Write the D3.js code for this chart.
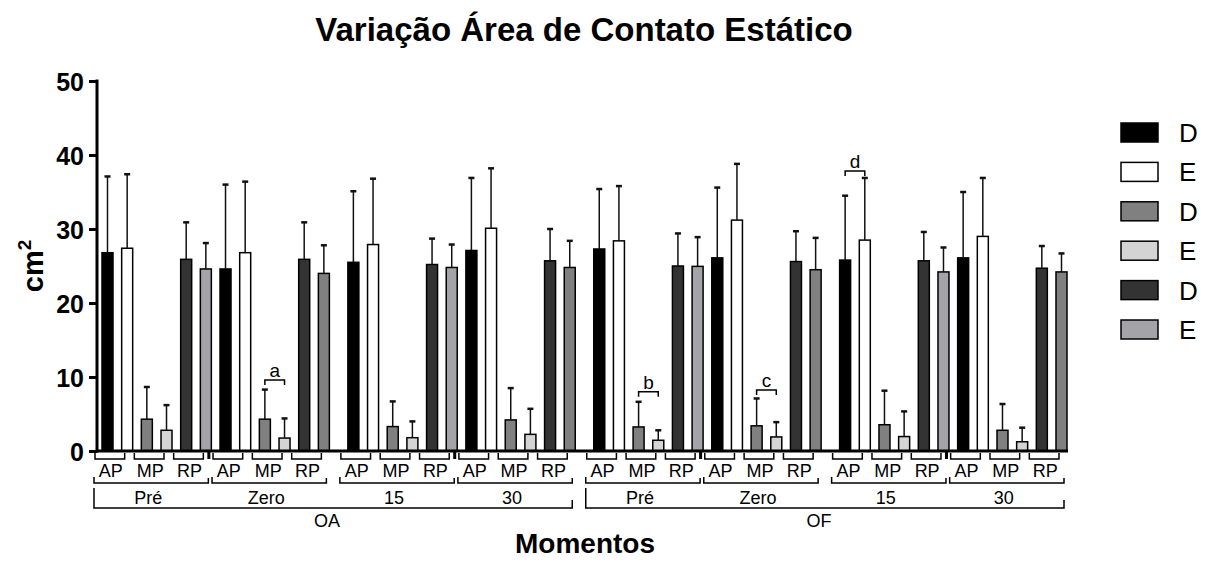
<!DOCTYPE html>
<html>
<head>
<meta charset="utf-8">
<script src="https://cdn.jsdelivr.net/npm/d3@7"></script>
<style>
  body { margin: 0; background: #fff; }
  svg { display: block; font-family: 'Liberation Sans', Arial, sans-serif; }
</style>
</head>
<body>
<script>
// data
const conditions = ['OA', 'OF']
const moments = ['Pré', 'Zero', '15', '30']
const phases = ['AP', 'MP', 'RP']
const sides = ['D', 'E']

// one value per group: OA Pré, Zero, 15, 30, OF Pré, Zero, 15, 30
const apD = [26.8, 24.6, 25.5, 27.1, 27.3, 26.1, 25.8, 26.1]
const apDsd = [10.3, 11.4, 9.6, 9.8, 8.1, 9.5, 8.7, 8.9]
const apE = [27.4, 26.8, 27.9, 30.1, 28.4, 31.2, 28.5, 29.0]
const apEsd = [10.0, 9.6, 8.9, 8.1, 7.4, 7.6, 8.4, 7.9]
const mpD = [4.3, 4.3, 3.3, 4.2, 3.25, 3.4, 3.55, 2.8]
const mpDsd = [4.35, 4.0, 3.4, 4.3, 3.4, 3.7, 4.6, 3.55]
const mpE = [2.8, 1.75, 1.8, 2.25, 1.45, 1.9, 1.95, 1.25]
const mpEsd = [3.4, 2.65, 2.2, 3.45, 1.35, 2.0, 3.4, 1.9]
const rpD = [25.9, 25.9, 25.2, 25.7, 25.0, 25.6, 25.7, 24.7]
const rpDsd = [5.0, 5.0, 3.5, 4.3, 4.4, 4.1, 3.9, 3.0]
const rpE = [24.6, 24.0, 24.8, 24.8, 24.95, 24.5, 24.2, 24.2]
const rpEsd = [3.5, 3.8, 3.1, 3.6, 3.95, 4.3, 3.3, 2.5]

const yTicks = [0, 10, 20, 30, 40, 50]

// significance brackets: group, first bar in group, second bar, y value
const notes = [
  { label: 'a', group: 1, from: 2, to: 3, y: 9.6 },
  { label: 'b', group: 4, from: 2, to: 3, y: 8.0 },
  { label: 'c', group: 5, from: 2, to: 3, y: 8.25 },
  { label: 'd', group: 6, from: 0, to: 1, y: 37.85 },
]

// text
const heading = 'Variação Área de Contato Estático'
const xAxisLabel = 'Momentos'

// styles
const fills = ['#000000', '#ffffff', '#808080', '#d4d4d4', '#333333', '#a3a3a8']
const rpEfillAlt = '#808080'

const width = 1209
const height = 564
const barW = 11

const series = [[apD, apDsd], [apE, apEsd], [mpD, mpDsd], [mpE, mpEsd], [rpD, rpDsd], [rpE, rpEsd]]
const groupCount = conditions.length * moments.length

// slot index of each bar, with half a slot of gap after every two moments
const slotOf = (g, k) => g * 6 + k + 0.5 * Math.floor(g / 2)

const dataset = []
for (let g = 0; g < groupCount; g++) {
  series.forEach(([mean, sd], k) => {
    let fill = fills[k]
    if (k === 5 && g % 2 === 1) fill = rpEfillAlt
    dataset.push({ g, k, slot: slotOf(g, k), mean: mean[g], sd: sd[g], fill })
  })
}

const svg = d3.select('body')
  .append('svg')
  .attr('width', width)
  .attr('height', height)

// scales
const xScale = d3.scaleLinear()
  .domain([0, slotOf(7, 5)])
  .range([102, 1056])
const yScale = d3.scaleLinear()
  .domain([0, 50])
  .range([451, 81])

const cx = slot => xScale(slot) + barW / 2

// title
svg.append('text')
  .attr('x', 584)
  .attr('y', 41)
  .attr('text-anchor', 'middle')
  .attr('font-size', 33)
  .attr('font-weight', 'bold')
  .text(heading)

// y axis
const yAxis = d3.axisLeft(yScale)
  .tickValues(yTicks)
  .tickSize(8)
  .tickPadding(5)
  .tickFormat(d3.format('d'))

const yG = svg.append('g')
  .attr('transform', 'translate(97,0)')
  .call(yAxis)
yG.select('.domain').attr('stroke-width', 3).attr('d', 'M0,79.5V452.5')
yG.selectAll('.tick line').attr('stroke-width', 3)
yG.selectAll('.tick text')
  .attr('font-size', 25)
  .attr('font-weight', 'bold')
  .attr('font-family', "'Liberation Sans', Arial, sans-serif")
  .attr('dy', '0.36em')

// y label
const yLabel = svg.append('text')
  .attr('transform', 'translate(43,266) rotate(-90)')
  .attr('text-anchor', 'middle')
  .attr('font-size', 29)
  .attr('font-weight', 'bold')
yLabel.append('tspan').text('cm')
yLabel.append('tspan').attr('font-size', 19).attr('dy', -12).text('2')

// bars
svg.append('g')
  .selectAll('rect')
  .data(dataset)
  .enter()
  .append('rect')
  .attr('x', d => xScale(d.slot))
  .attr('y', d => yScale(d.mean))
  .attr('width', barW)
  .attr('height', d => yScale(0) - yScale(d.mean))
  .attr('fill', d => d.fill)
  .attr('stroke', '#000')
  .attr('stroke-width', 1.5)

// error bars
const err = svg.append('g')
  .attr('stroke', '#111')
  .attr('stroke-width', 1.5)
err.selectAll('line.v')
  .data(dataset)
  .enter()
  .append('line')
  .attr('x1', d => cx(d.slot))
  .attr('x2', d => cx(d.slot))
  .attr('y1', d => yScale(d.mean))
  .attr('y2', d => yScale(d.mean + d.sd))
err.selectAll('line.cap')
  .data(dataset)
  .enter()
  .append('line')
  .attr('stroke-width', 2.5)
  .attr('x1', d => cx(d.slot) - 3)
  .attr('x2', d => cx(d.slot) + 3)
  .attr('y1', d => yScale(d.mean + d.sd))
  .attr('y2', d => yScale(d.mean + d.sd))

// x axis line
svg.append('line')
  .attr('x1', 96)
  .attr('x2', xScale(slotOf(7, 5)) + barW + 1)
  .attr('y1', yScale(0))
  .attr('y2', yScale(0))
  .attr('stroke', '#000')
  .attr('stroke-width', 3)

// thick ticks below axis between paired moments
const pairEnds = d3.range(0, groupCount, 2).map(g => xScale(slotOf(g, 5)) + barW - 2.5)
svg.append('g')
  .selectAll('line')
  .data(pairEnds)
  .enter()
  .append('line')
  .attr('x1', d => d)
  .attr('x2', d => d)
  .attr('y1', 451)
  .attr('y2', 459)
  .attr('stroke', '#000')
  .attr('stroke-width', 3)

// nested x labels
const bracket = (g, x1, x2, yLine, yLeft, yRight) => {
  g.append('path')
    .attr('d', `M${x1},${yLeft}V${yLine}H${x2}V${yRight}`)
    .attr('fill', 'none')
    .attr('stroke', '#000')
    .attr('stroke-width', 1.5)
}
const labels = svg.append('g')
  .attr('font-size', 18)
  .attr('text-anchor', 'middle')

for (let g = 0; g < groupCount; g++) {
  phases.forEach((p, i) => {
    const x1 = xScale(slotOf(g, i * 2)) - 7
    const x2 = xScale(slotOf(g, i * 2 + 1)) + barW - 8
    bracket(labels, x1, x2, 459, 453, 453)
    labels.append('text')
      .attr('x', (x1 + x2) / 2 + 1)
      .attr('y', 477)
      .text(p)
  })
  const gx1 = xScale(slotOf(g, 0)) - 8
  const gx2 = xScale(slotOf(g, 5)) + barW - 3
  bracket(labels, gx1, gx2, 483, 477, 478)
  labels.append('text')
    .attr('x', (gx1 + gx2) / 2 - 3)
    .attr('y', 504)
    .text(moments[g % moments.length])
}

conditions.forEach((c, i) => {
  const cx1 = xScale(slotOf(i * 4, 0)) - 8
  const cx2 = xScale(slotOf(i * 4 + 3, 5)) + barW - 3
  bracket(labels, cx1, cx2, 508, 488, 500)
  labels.append('text')
    .attr('x', (cx1 + cx2) / 2 - 6)
    .attr('y', 527)
    .text(c)
})

// x label
svg.append('text')
  .attr('x', 585)
  .attr('y', 553)
  .attr('text-anchor', 'middle')
  .attr('font-size', 28)
  .attr('font-weight', 'bold')
  .text(xAxisLabel)

// significance brackets
const sig = svg.append('g')
sig.selectAll('path')
  .data(notes)
  .enter()
  .append('path')
  .attr('d', d => {
    const x1 = cx(slotOf(d.group, d.from))
    const x2 = cx(slotOf(d.group, d.to))
    const y = yScale(d.y)
    return `M${x1},${y + 5}V${y}H${x2}V${y + 5}`
  })
  .attr('fill', 'none')
  .attr('stroke', '#000')
  .attr('stroke-width', 1.5)
sig.selectAll('text')
  .data(notes)
  .enter()
  .append('text')
  .attr('x', d => (cx(slotOf(d.group, d.from)) + cx(slotOf(d.group, d.to))) / 2)
  .attr('y', d => yScale(d.y) - 3)
  .attr('text-anchor', 'middle')
  .attr('font-size', 19)
  .text(d => d.label)

// legend
const legend = svg.append('g')
  .attr('transform', 'translate(1121,123)')
const legendRows = legend.selectAll('g')
  .data(fills)
  .enter()
  .append('g')
  .attr('transform', (d, i) => `translate(0, ${i * 39.4})`)
legendRows.append('rect')
  .attr('width', 37)
  .attr('height', 19)
  .attr('fill', d => d)
  .attr('stroke', '#000')
  .attr('stroke-width', 1.5)
legendRows.append('text')
  .attr('x', 58)
  .attr('y', 19)
  .attr('font-size', 26)
  .text((d, i) => sides[i % 2])
</script>
</body>
</html>
